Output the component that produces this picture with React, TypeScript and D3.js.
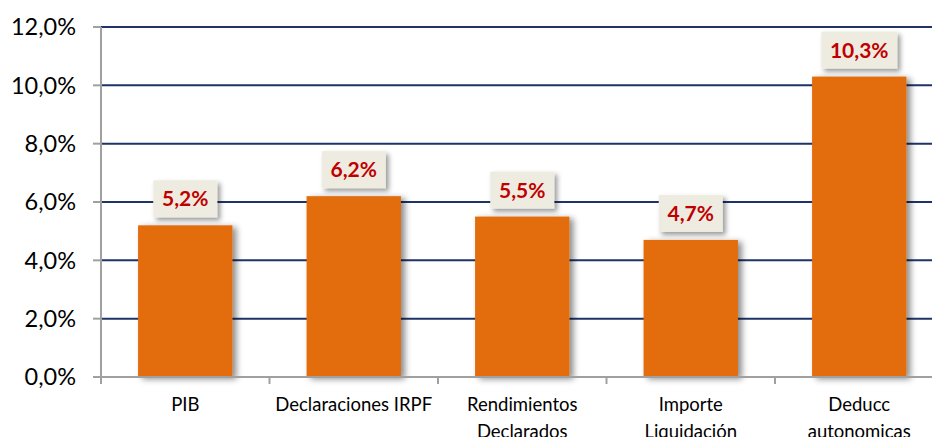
import React from "react";
import * as d3 from "d3";

const categories: string[][] = [
  ["PIB"],
  ["Declaraciones IRPF"],
  ["Rendimientos", "Declarados"],
  ["Importe", "Liquidación"],
  ["Deducc", "autonomicas"],
];
const values: number[] = [5.2, 6.2, 5.5, 4.7, 10.3];
const yTicks: number[] = [0, 2, 4, 6, 8, 10, 12];

const W = 932;
const H = 437;
const left = 101;
const right = 943.5;
const top = 27;
const bottom = 377;

const fmt = (v: number) => v.toFixed(1).replace(".", ",") + "%";

export default function App() {
  const keys = categories.map((c) => c.join(" "));
  const x = d3.scaleBand<string>().domain(keys).range([left, right]).paddingInner(0).paddingOuter(0);
  const y = d3.scaleLinear().domain([0, 12]).range([bottom, top]);
  const step = x.step();
  const barW = step * 0.56;
  const font = "Lato, 'Open Sans', sans-serif";

  return (
    <svg width={W} height={H} style={{ position: "absolute", left: 0, top: 0 }}>
      <defs>
        <filter id="barShadow" x="-20%" y="-20%" width="150%" height="150%">
          <feDropShadow dx="4" dy="2" stdDeviation="3" floodColor="#000" floodOpacity="0.45" />
        </filter>
        <filter id="boxShadow" x="-30%" y="-30%" width="160%" height="180%">
          <feDropShadow dx="3" dy="3" stdDeviation="2.5" floodColor="#000" floodOpacity="0.4" />
        </filter>
      </defs>
      <rect width={W} height={H} fill="#fff" />
      {yTicks.filter((t) => t > 0).map((t) => (
        <line key={"g" + t} x1={left} x2={W} y1={y(t)} y2={y(t)} stroke="#1F3368" strokeWidth={2} />
      ))}
      {values.map((v, i) => {
        const cx = (x(keys[i]) as number) + step / 2;
        return (
          <rect key={"b" + i} x={cx - barW / 2} y={y(v)} width={barW} height={bottom - y(v)} fill="#E36C0E" filter="url(#barShadow)" />
        );
      })}
      <line x1={left} x2={left} y1={top} y2={bottom} stroke="#A0A0A0" strokeWidth={2} />
      <line x1={left - 8} x2={W} y1={bottom} y2={bottom} stroke="#A0A0A0" strokeWidth={2} />
      {yTicks.map((t) => (
        <g key={"t" + t}>
          <line x1={left - 8} x2={left} y1={y(t)} y2={y(t)} stroke="#A0A0A0" strokeWidth={2} />
          <text x={76} y={y(t)} dy="0.36em" textAnchor="end" fontFamily={font} fontSize={23.5} fill="#000">
            {fmt(t)}
          </text>
        </g>
      ))}
      {keys.map((k, i) => (
        <line key={"xt" + i} x1={(x(k) as number)} x2={(x(k) as number)} y1={bottom} y2={bottom + 7} stroke="#A0A0A0" strokeWidth={2} />
      ))}
      {categories.map((lines, i) => {
        const cx = (x(keys[i]) as number) + step / 2;
        return (
          <text key={"c" + i} x={cx} y={411} textAnchor="middle" fontFamily={font} fontSize={18.5} fill="#000">
            {lines.map((l, j) => (
              <tspan key={j} x={cx} dy={j === 0 ? 0 : 27}>
                {l}
              </tspan>
            ))}
          </text>
        );
      })}
      {values.map((v, i) => {
        const cx = (x(keys[i]) as number) + step / 2;
        const label = fmt(v);
        const bw = label.length * 12 + 16;
        const bh = 37;
        const by = y(v) - 8 - bh;
        return (
          <g key={"l" + i}>
            <rect x={cx - bw / 2} y={by} width={bw} height={bh} fill="#EEECE1" filter="url(#boxShadow)" />
            <text x={cx} y={by + bh / 2} dy="0.36em" textAnchor="middle" fontFamily={font} fontWeight="bold" fontSize={21} fill="#C00000">
              {label}
            </text>
          </g>
        );
      })}
    </svg>
  );
}
